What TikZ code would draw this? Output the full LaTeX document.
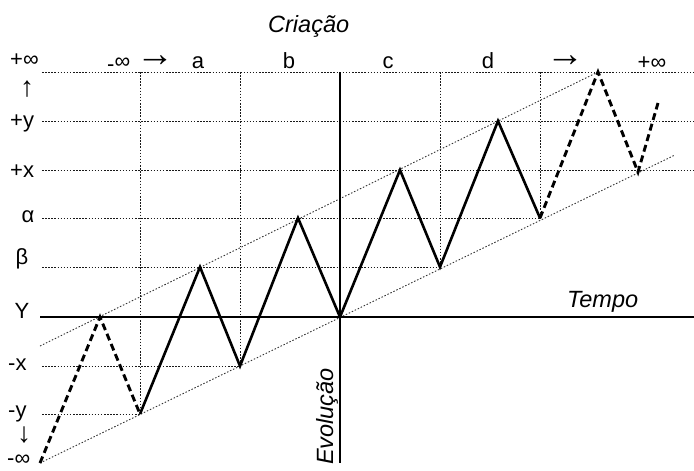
\documentclass[tikz,border=0pt]{standalone}
\usepackage{fontspec}
\setmainfont{Liberation Sans}
\begin{document}
\begin{tikzpicture}[x=1pt,y=-1pt,
  gridline/.style={line width=1pt, black!90, dash pattern=on 1.5pt off 1.6pt},
  envline/.style={line width=0.9pt, black!80, dash pattern=on 1.5pt off 1.8pt},
  zig/.style={line width=2.6pt, line join=miter, line cap=butt},
  zigdash/.style={line width=2.9pt, dash pattern=on 7pt off 4pt},
  axisline/.style={line width=2.4pt},
  lab/.style={font=\fontsize{22}{24}\selectfont, inner sep=0pt},
  arr/.style={font=\fontsize{38}{40}\selectfont, inner sep=0pt},
  varr/.style={font=\fontsize{28}{30}\selectfont, inner sep=0pt},
  ttl/.style={font=\fontsize{23.5}{26}\selectfont\itshape, inner sep=0pt}]
\useasboundingbox (0,0) rectangle (694,471);
\clip (0,0) rectangle (694,471);
% rows
\coordinate (Linf) at (42,72);  \coordinate (Rinf) at (694,72);
\coordinate (Ly) at (42,121);   \coordinate (Ry) at (694,121);
\coordinate (Lx) at (42,170);   \coordinate (Rx) at (694,170);
\coordinate (Lal) at (42,218);
\coordinate (Lbe) at (42,267);
\coordinate (Lga) at (40,317);  \coordinate (Rga) at (694,317);
\coordinate (Lmx) at (42,366);
\coordinate (Lmy) at (42,414);
% column tops
\coordinate (T1) at (140,72);
\coordinate (T2) at (240,72);
\coordinate (T3) at (340,72);
\coordinate (T4) at (440,72);
\coordinate (T5) at (540,72);
\coordinate (B3) at (340,463);
% zigzag points
\coordinate (S) at (40,463);
\coordinate (P0) at (100,317);
\coordinate (V1) at (140,414);
\coordinate (P1) at (200,267);
\coordinate (V2) at (240,366);
\coordinate (P2) at (298,218);
\coordinate (V3) at (340,317);
\coordinate (P3) at (400,170);
\coordinate (V4) at (440,267);
\coordinate (P4) at (498,121);
\coordinate (V5) at (540,218);
\coordinate (P5) at (598,72);
\coordinate (V6) at (638,172);
\coordinate (E) at (658,103);
\coordinate (U0) at (40,346);
\coordinate (W1) at (675,155);
% grid
\draw[gridline] (Linf) -- (Rinf);
\draw[gridline] (Ly) -- (Ry);
\draw[gridline] (Lx) -- (Rx);
\draw[gridline] (Lal) -- (V5);
\draw[gridline] (Lbe) -- (V4);
\draw[gridline] (Lmx) -- (V2);
\draw[gridline] (Lmy) -- (V1);
\draw[gridline] (T1) -- (V1);
\draw[gridline] (T2) -- (V2);
\draw[gridline] (T4) -- (V4);
\draw[gridline] (T5) -- (V5);
% envelopes
\draw[envline] (U0) -- (P5);
\draw[envline] (S) -- (W1);
% axes
\draw[axisline] (Lga) -- (Rga);
\draw[axisline] (T3) -- (B3);
% zigzag
\draw[zigdash] (S) -- (P0) -- (V1);
\draw[zig] (V1) -- (P1) -- (V2) -- (P2) -- (V3) -- (P3) -- (V4) -- (P4) -- (V5);
\draw[zigdash] (V5) -- (P5) -- (V6) -- (E);
% left labels
\node[lab, anchor=base west] (lpinf) at (10,66) {+∞};
\node[varr] (lup) at (27,89) {↑};
\node[lab, anchor=base west] (lpy) at (10,127) {+y};
\node[lab, anchor=base west] (lpx) at (10,177) {+x};
\node[lab, anchor=base] (lal) at (28,222) {α};
\node[lab, anchor=base] (lbe) at (22,264) {β};
\node[lab, anchor=base] (lga) at (22,318) {Y};
\node[lab, anchor=base west] (lmx) at (8,370) {-x};
\node[lab, anchor=base west] (lmy) at (8,417) {-y};
\node[varr] (ldown) at (24,435) {↓};
\node[lab, anchor=base west] (lminf) at (7,465) {-∞};
% top labels
\node[lab, anchor=base west] (tminf) at (107,68) {\raisebox{-0.15em}{-}∞};
\node[arr] (tarr1) at (155,61) {→};
\node[lab, anchor=base] (ta) at (198,68) {a};
\node[lab, anchor=base] (tb) at (289,68) {b};
\node[lab, anchor=base] (tc) at (388,68) {c};
\node[lab, anchor=base] (td) at (488,68) {d};
\node[arr] (tarr2) at (565,61) {→};
\node[lab, anchor=base] (tpinf) at (652,69) {+∞};
% titles
\node[ttl, anchor=base west] (criacao) at (268,32) {Criação};
\node[ttl, anchor=base west] (tempo) at (567,307) {Tempo};
\node[ttl, anchor=base west, rotate=90] (evol) at (333,465) {Evolução};
\end{tikzpicture}
\end{document}
